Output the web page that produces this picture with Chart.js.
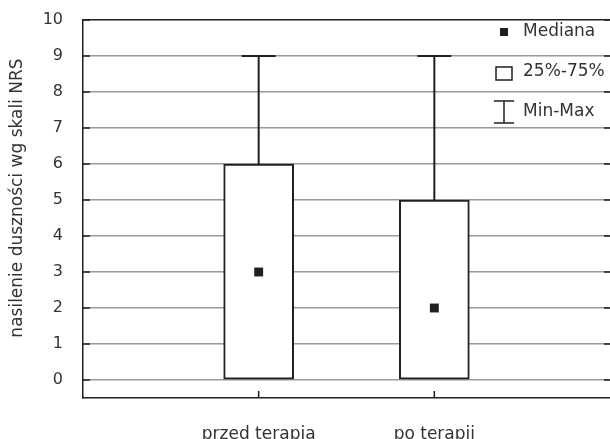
<!DOCTYPE html>
<html>
<head>
<meta charset="utf-8">
<script src="https://cdn.jsdelivr.net/npm/chart.js@4/dist/chart.umd.min.js"></script>
<style>
  body { margin: 0; background: #fff; }
  #wrap { width: 610px; height: 439px; position: relative; }
</style>
</head>
<body>
<div id="wrap"><canvas id="box_chart"></canvas></div>
<script>
const categories = ['przed terapią', 'po terapii'];
const positions = [1, 2];
const mins = [0, 0];
const q1s = [0, 0];
const medians = [3, 2];
const q3s = [6, 5];
const maxs = [9, 9];
const yTicks = [0, 1, 2, 3, 4, 5, 6, 7, 8, 9, 10];
const legendLabels = ['Mediana', '25%-75%', 'Min-Max'];
const yTitle = 'nasilenie duszności wg skali NRS';

const dark = '#231f20';
const gray = '#9a9a9a';
const fontFamily = "'DejaVu Sans', sans-serif";

const boxExtras = {
  id: 'boxExtras',
  beforeDatasetsDraw: function(chart) {
    const ctx = chart.ctx, x = chart.scales.x, y = chart.scales.y;
    ctx.save();
    ctx.strokeStyle = dark;
    ctx.lineWidth = 2;
    positions.forEach(function(p, i) {
      let px = x.getPixelForValue(p);
      ctx.beginPath();
      ctx.moveTo(px, y.getPixelForValue(maxs[i]));
      ctx.lineTo(px, y.getPixelForValue(q3s[i]));
      ctx.moveTo(px, y.getPixelForValue(q1s[i]));
      ctx.lineTo(px, y.getPixelForValue(mins[i]));
      ctx.moveTo(px - 17, y.getPixelForValue(maxs[i]));
      ctx.lineTo(px + 17, y.getPixelForValue(maxs[i]));
      ctx.stroke();
    });
    ctx.restore();
  },
  afterDraw: function(chart) {
    const ctx = chart.ctx, x = chart.scales.x, y = chart.scales.y, area = chart.chartArea;
    ctx.save();
    ctx.strokeStyle = dark;
    ctx.lineWidth = 1.5;
    ctx.beginPath();
    // small inner ticks
    yTicks.forEach(function(v) {
      let py = y.getPixelForValue(v);
      ctx.moveTo(area.left, py);
      ctx.lineTo(area.left + 7, py);
      ctx.moveTo(area.right - 6, py);
      ctx.lineTo(area.right, py);
    });
    positions.forEach(function(p) {
      let px = x.getPixelForValue(p);
      ctx.moveTo(px, area.bottom);
      ctx.lineTo(px, area.bottom - 7);
    });
    ctx.stroke();

    // legend
    let tx = area.right - 87, ix = area.right - 106;
    ctx.fillStyle = dark;
    ctx.fillRect(ix - 4, area.top + 8, 8, 8);
    ctx.strokeRect(ix - 8, area.top + 47, 16, 13);
    ctx.beginPath();
    ctx.moveTo(ix - 10, area.top + 81);
    ctx.lineTo(ix + 10, area.top + 81);
    ctx.moveTo(ix, area.top + 81);
    ctx.lineTo(ix, area.top + 103);
    ctx.moveTo(ix - 10, area.top + 103);
    ctx.lineTo(ix + 10, area.top + 103);
    ctx.stroke();
    ctx.font = '17px ' + fontFamily;
    ctx.fillStyle = '#333';
    ctx.textBaseline = 'middle';
    ctx.textAlign = 'left';
    legendLabels.forEach(function(t, i) {
      ctx.fillText(t, tx, area.top + 12 + i * 40);
    });

    // y title
    ctx.translate(18, 198);
    ctx.rotate(-Math.PI / 2);
    ctx.textAlign = 'center';
    ctx.font = '17px ' + fontFamily;
    ctx.fillText(yTitle, 0, 0);
    ctx.restore();
  }
};

new Chart(document.querySelector('#box_chart').getContext('2d'), {
  type: 'bar',
  data: {
    datasets: [{
      type: 'scatter',
      label: 'Mediana',
      data: positions.map((p, i) => ({x: p, y: medians[i]})),
      pointStyle: 'rect',
      pointRadius: 6.3,
      borderWidth: 0,
      backgroundColor: dark,
      order: 1
    }, {
      type: 'bar',
      label: '25%-75%',
      data: positions.map((p, i) => ({x: p, y: [q1s[i], q3s[i]]})),
      backgroundColor: '#fff',
      borderColor: dark,
      borderWidth: 2,
      borderSkipped: false,
      barThickness: 70,
      order: 2
    }]
  },
  plugins: [boxExtras],
  options: {
    responsive: true,
    maintainAspectRatio: false,
    animation: false,
    layout: {autoPadding: false, padding: {top: 20, right: 0, left: 0, bottom: 0}},
    scales: {
      x: {
        type: 'linear',
        min: 0,
        max: 3,
        offset: false,
        afterBuildTicks: function(axis) { axis.ticks = positions.map(v => ({value: v})); },
        afterFit: function(axis) { axis.height = 41; axis.paddingRight = 0; axis.paddingLeft = 0; },
        grid: {display: false, offset: false},
        border: {display: true, color: dark, width: 1.5},
        ticks: {
          padding: 18,
          color: '#333',
          font: {family: fontFamily, size: 17},
          callback: function(v) { return categories[positions.indexOf(v)]; }
        }
      },
      y: {
        min: -0.5,
        max: 10,
        afterBuildTicks: function(axis) { axis.ticks = yTicks.map(v => ({value: v})); },
        afterFit: function(axis) { axis.width = 83; axis.paddingTop = 0; axis.paddingBottom = 0; },
        grid: {
          drawTicks: false,
          color: function(c) { return c.tick && c.tick.value === 10 ? dark : gray; },
          lineWidth: 1.5
        },
        border: {display: true, color: dark, width: 1.5},
        ticks: {
          padding: 20,
          color: '#333',
          font: {family: fontFamily, size: 16}
        }
      }
    },
    plugins: {
      legend: {display: false},
      tooltip: {enabled: false}
    }
  }
});
</script>
</body>
</html>
